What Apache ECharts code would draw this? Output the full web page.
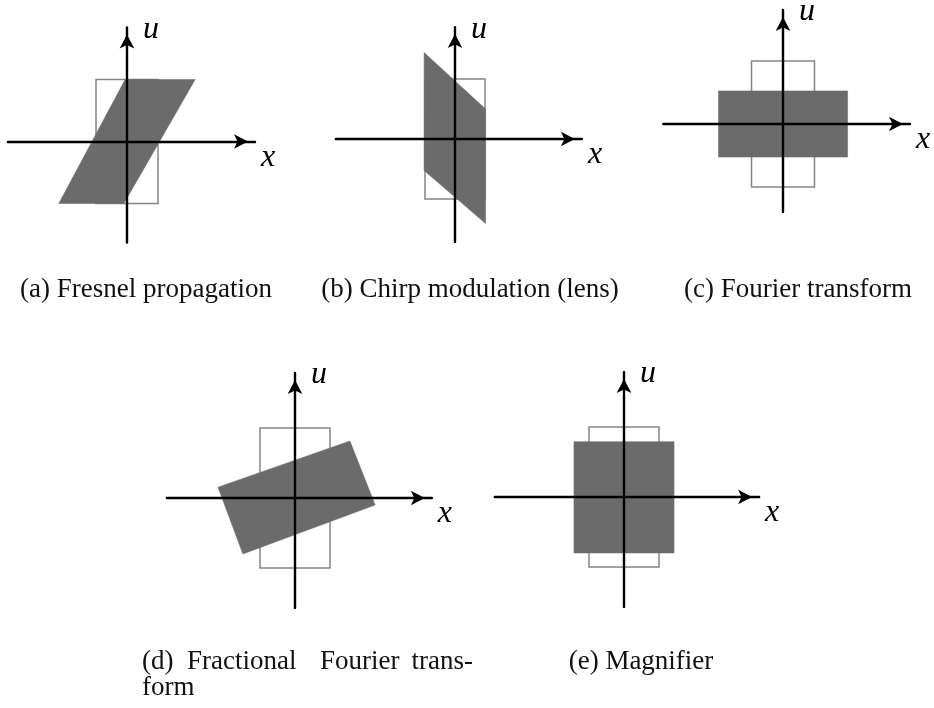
<!DOCTYPE html>
<html>
<head>
<meta charset="utf-8">
<script src="https://cdn.jsdelivr.net/npm/echarts@6/dist/echarts.min.js"></script>
<style>
  html, body { margin: 0; padding: 0; background: #fff; }
  #chart { width: 934px; height: 708px; }
</style>
</head>
<body>
<div id="chart"></div>
<script>
// Phase-space (x, u) pictures of five optical operations.
// Each panel: the input rectangle (outline) and its transformed image (filled).

const panelCaptions = [
  '(a) Fresnel propagation',
  '(b) Chirp modulation (lens)',
  '(c) Fourier transform',
  '(d) Fractional Fourier trans-|form',
  '(e) Magnifier'
];

// Input rectangle, common to all panels: |x| <= 1, |u| <= 2
const inputRect = [[-1, -2], [1, -2], [1, 2], [-1, 2]];

// Transformed shapes (polygon vertices in x, u)
const fresnelShape     = [[-0.06, 2], [2.2, 2], [-0.1, -2], [-2.2, -2]];
const chirpShape       = [[-1.03, 2.88], [1.02, 1.0], [1.02, -2.82], [-1.03, -1.05]];
const fourierShape     = [[-2.05, 1.05], [2.05, 1.05], [2.05, -1.05], [-2.05, -1.05]];
const fracFourierShape = [[-2.2, 0.31], [1.57, 1.63], [2.29, -0.2], [-1.49, -1.6]];
const magnifierShape   = [[-1.43, 1.58], [1.43, 1.58], [1.43, -1.6], [-1.43, -1.6]];

const shapes = [fresnelShape, chirpShape, fourierShape, fracFourierShape, magnifierShape];

// Axis extents per panel (x and u), arrow tips at the max ends
const xExtents = [[-3.84, 4.13], [-3.97, 4.23], [-3.8, 4.03], [-3.66, 3.91], [-3.69, 3.86]];
const uExtents = [[-3.26, 3.68], [-3.43, 3.73], [-2.79, 3.62], [-3.14, 3.57], [-3.14, 3.57]];

const axisNames = ['x', 'u'];

// Panel placement: origin in pixels and pixels per unit
const layout = [
  { ox: 127, oy: 141.5, s: 31 },
  { ox: 455, oy: 139,   s: 30 },
  { ox: 783, oy: 124,   s: 31.5 },
  { ox: 295, oy: 498,   s: 35 },
  { ox: 624, oy: 497,   s: 35 }
];

const FILL = '#6b6b6b';
const OUTLINE = '#858585';
const SERIF = '"Liberation Serif", "DejaVu Serif", serif';

const flat = pts => pts.reduce((a, p) => a.concat(p), []);

function polygonSeries(idx, pts, style, z) {
  const n = pts.length;
  return {
    type: 'custom',
    xAxisIndex: idx,
    yAxisIndex: idx,
    z: z,
    silent: true,
    data: [flat(pts)],
    encode: {
      x: pts.map((_, k) => 2 * k),
      y: pts.map((_, k) => 2 * k + 1)
    },
    renderItem: function (params, api) {
      const points = [];
      for (let k = 0; k < n; k++) {
        points.push(api.coord([api.value(2 * k), api.value(2 * k + 1)]));
      }
      return { type: 'polygon', shape: { points: points }, style: style };
    }
  };
}

const grids = [], xAxes = [], yAxes = [], series = [];
layout.forEach((L, i) => {
  const [x0, x1] = xExtents[i];
  const [u0, u1] = uExtents[i];
  grids.push({
    left: L.ox + x0 * L.s,
    top: L.oy - u1 * L.s,
    width: (x1 - x0) * L.s,
    height: (u1 - u0) * L.s,
    outerBoundsMode: 'none',
    containLabel: false
  });
  const axisLine = {
    show: true,
    onZero: true,
    symbol: ['none', 'arrow'],
    symbolSize: [11, 14],
    symbolOffset: [0, -7],
    lineStyle: { color: '#000', width: 2.4 }
  };
  xAxes.push({
    gridIndex: i, type: 'value', min: x0, max: x1, z: 10,
    axisLine: axisLine, axisTick: { show: false }, axisLabel: { show: false },
    splitLine: { show: false },
    name: axisNames[0], nameLocation: 'end', nameGap: 6,
    nameTextStyle: {
      fontFamily: SERIF, fontStyle: 'italic', fontSize: 32, color: '#000',
      align: 'left', verticalAlign: 'top', lineHeight: 32
    }
  });
  yAxes.push({
    gridIndex: i, type: 'value', min: u0, max: u1, z: 10,
    axisLine: axisLine, axisTick: { show: false }, axisLabel: { show: false },
    splitLine: { show: false },
    name: axisNames[1], nameLocation: 'end', nameGap: -2,
    nameTextStyle: {
      fontFamily: SERIF, fontStyle: 'italic', fontSize: 32, color: '#000',
      align: 'left', verticalAlign: 'middle', padding: [0, 0, 0, 16]
    }
  });
  series.push(polygonSeries(i, inputRect, { fill: 'none', stroke: OUTLINE, lineWidth: 1.5 }, 2));
  series.push(polygonSeries(i, shapes[i], { fill: FILL, stroke: FILL, lineWidth: 0.5 }, 3));
});

// Captions under the panels
const capFont = '27px ' + SERIF;
const captionText = (text, x, y, align) => ({
  type: 'text', x: x, y: y, silent: true,
  style: { text: text, font: capFont, fill: '#111', align: align || 'left', verticalAlign: 'middle' }
});
const dLine = panelCaptions[3].split('|');
const dWords = dLine[0].split(' ');
const graphics = [
  captionText(panelCaptions[0], 146, 290, 'center'),
  captionText(panelCaptions[1], 470, 290, 'center'),
  captionText(panelCaptions[2], 798, 290, 'center'),
  // justified first line of caption (d)
  captionText(dWords[0], 142, 662),
  captionText(dWords[1], 187, 662),
  captionText(dWords[2], 320, 662),
  captionText(dWords[3], 473, 662, 'right'),
  captionText(dLine[1], 142, 688),
  captionText(panelCaptions[4], 641, 662, 'center')
];

const chart = echarts.init(document.getElementById('chart'), null, { renderer: 'canvas' });
chart.setOption({
  animation: false,
  backgroundColor: '#fff',
  grid: grids,
  xAxis: xAxes,
  yAxis: yAxes,
  series: series,
  graphic: graphics
});
</script>
</body>
</html>
